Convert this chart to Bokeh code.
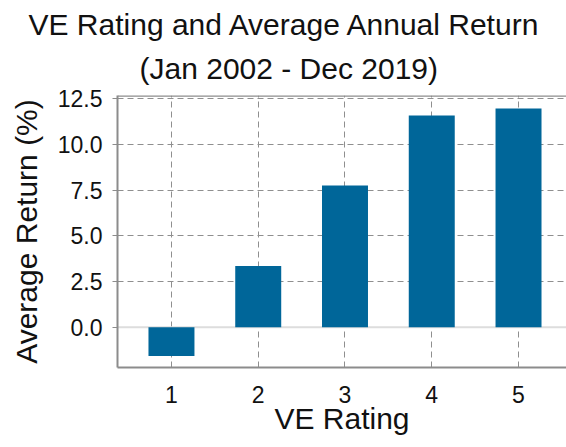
from bokeh.plotting import figure
from bokeh.models import Title, Span, FixedTicker, NumeralTickFormatter
from bokeh.embed import file_html
from bokeh.resources import INLINE

ratings = [1, 2, 3, 4, 5]
avg_returns = [-1.58, 3.35, 7.76, 11.59, 11.97]
y_ticks = [0.0, 2.5, 5.0, 7.5, 10.0, 12.5]
title_line1 = "VE Rating and Average Annual Return"
title_line2 = "(Jan 2002 - Dec 2019)"

FONT = "Liberation Sans"
GRID = "#8f8f8f"
SPINE = "#8c8c8c"

p = figure(width=566, height=447, output_backend="svg", toolbar_location=None,
           x_range=(0.378, 5.553), y_range=(-2.21, 12.68),
           min_border_left=117, min_border_right=0, min_border_top=0, min_border_bottom=80)
p.title.visible = False
p.outline_line_color = None

t2 = Title(text=title_line2, align="left", text_font=FONT, text_font_size="30px",
           text_font_style="normal", text_color="#111111", offset=22, standoff=21)
t1 = Title(text=title_line1, align="left", text_font=FONT, text_font_size="30px",
           text_font_style="normal", text_color="#111111", offset=-89, standoff=-3)
spacer = Title(text=" ", text_font_size="4px", standoff=0)
p.add_layout(t2, "above")
p.add_layout(t1, "above")
p.add_layout(spacer, "above")

p.vbar(x=ratings, top=avg_returns, bottom=0, width=0.53, color="#006699", line_color=None)

p.add_layout(Span(location=0, dimension="width", line_color="#dddddd", line_width=2, level="underlay"))
p.add_layout(Span(location=12.66, dimension="width", line_color=SPINE, line_width=2))

for ax in (p.xaxis, p.yaxis):
    ax.axis_line_color = SPINE
    ax.axis_line_width = 2
    ax.major_label_text_font = FONT
    ax.major_label_text_font_size = "23px"
    ax.major_label_text_color = "#111111"
    ax.axis_label_text_font = FONT
    ax.axis_label_text_font_size = "30px"
    ax.axis_label_text_font_style = "normal"
    ax.axis_label_text_color = "#111111"
    ax.minor_tick_line_color = None

p.xaxis.ticker = FixedTicker(ticks=ratings)
p.xaxis.major_tick_line_color = None
p.xaxis.major_label_standoff = 12
p.xaxis.axis_label = "VE Rating"
p.xaxis.axis_label_standoff = -4

p.yaxis.ticker = FixedTicker(ticks=y_ticks)
p.yaxis.formatter = NumeralTickFormatter(format="0.0")
p.yaxis.major_tick_line_color = SPINE
p.yaxis.major_tick_in = 0
p.yaxis.major_tick_out = 5
p.yaxis.major_label_standoff = 10
p.yaxis.axis_label = "Average Return (%)"
p.yaxis.axis_label_standoff = 12

p.xgrid.ticker = FixedTicker(ticks=ratings)
p.ygrid.ticker = FixedTicker(ticks=y_ticks)
for g in (p.xgrid, p.ygrid):
    g.grid_line_color = GRID
    g.grid_line_dash = "6 4"
    g.grid_line_width = 1

open("out.html", "w").write(file_html(p, INLINE))
